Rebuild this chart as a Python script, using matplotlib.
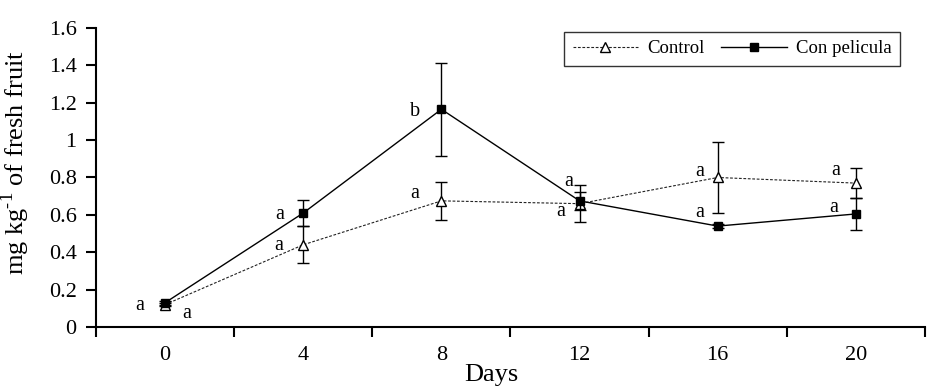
import numpy as np
import matplotlib.pyplot as plt
from matplotlib.lines import Line2D

plt.rcParams['font.family'] = ['Liberation Serif', 'DejaVu Serif']
plt.rcParams['mathtext.fontset'] = 'custom'
plt.rcParams['mathtext.rm'] = 'Liberation Serif'

# Data
days = ['0', '4', '8', '12', '16', '20']
control = [0.12, 0.44, 0.675, 0.66, 0.80, 0.77]
control_err = [0.01, 0.10, 0.10, 0.10, 0.19, 0.08]
pelicula = [0.13, 0.61, 1.165, 0.675, 0.54, 0.605]
pelicula_err = [0.01, 0.07, 0.25, 0.05, 0.01, 0.085]
control_letters = ['a', 'a', 'a', 'a', 'a', 'a']
pelicula_letters = ['a', 'a', 'b', 'a', 'a', 'a']

# letter offsets from the point, in pixels (dx, dy up)
control_off = [(22, -9), (-25, -1), (-27, 7), (-11, 22), (-18, 6), (-20, 13)]
pelicula_off = [(-25, -3), (-24, -1), (-26, -2), (-19, -11), (-18, 14), (-22, 6)]

fig = plt.figure(figsize=(9.45, 3.92), dpi=100)
ax = fig.add_axes([0.1016, 0.1658, 0.8772, 0.7628])
x = np.arange(len(days))

ctrl_style = dict(color='#222222', linestyle=(0, (2.5, 1.5)), linewidth=0.8, marker='^',
                  markersize=7.5, markerfacecolor='white', markeredgecolor='black',
                  markeredgewidth=1)
pel_style = dict(color='black', linestyle='-', linewidth=1, marker='s', markersize=5.5,
                 markerfacecolor='black', markeredgecolor='black')

ax.errorbar(x, control, yerr=control_err, ecolor='black', elinewidth=1, capsize=4,
            capthick=1, zorder=3, **ctrl_style)
ax.errorbar(x, pelicula, yerr=pelicula_err, ecolor='black', elinewidth=1, capsize=4,
            capthick=1, zorder=4, **pel_style)

px = 0.72
for i in range(len(days)):
    dx, dy = control_off[i]
    ax.annotate(control_letters[i], (x[i], control[i]), xytext=(dx * px, dy * px),
                textcoords='offset points', ha='center', va='center', fontsize=14.5)
    dx, dy = pelicula_off[i]
    ax.annotate(pelicula_letters[i], (x[i], pelicula[i]), xytext=(dx * px, dy * px),
                textcoords='offset points', ha='center', va='center', fontsize=14.5)

ax.set_xlim(-0.5, len(days) - 0.5)
ax.set_ylim(0, 1.6)
ax.set_yticks(np.arange(0, 1.61, 0.2))
ax.set_yticklabels(['0', '0.2', '0.4', '0.6', '0.8', '1', '1.2', '1.4', '1.6'])
ax.set_xticks(x)
ax.set_xticklabels(days)
ax.set_xticks(np.arange(-0.5, len(days), 1), minor=True)
ax.tick_params(axis='x', which='major', length=0, labelsize=16, pad=14)
ax.tick_params(axis='x', which='minor', length=7, width=1.5, direction='out')
ax.tick_params(axis='y', length=7, width=1.5, direction='out', labelsize=16, pad=7)

for s in ['top', 'right']:
    ax.spines[s].set_visible(False)
for s in ['left', 'bottom']:
    ax.spines[s].set_linewidth(1.5)

ax.set_xlabel('Days', fontsize=19)
ax.xaxis.set_label_coords(0.4765, -0.125)
ax.set_ylabel('mg kg$^{\\text{-1}}$ of fresh fruit', fontsize=19, va='center')
ax.yaxis.set_label_coords(-0.0975, 0.55)

handles = [Line2D([], [], **ctrl_style), Line2D([], [], **pel_style)]
leg = ax.legend(handles, ['Control', 'Con pelicula'], loc='upper right',
                bbox_to_anchor=(0.970, 0.987), borderaxespad=0, ncol=2, fontsize=13.5,
                frameon=True, fancybox=False, edgecolor='black', handlelength=3.5,
                columnspacing=0.85, borderpad=0.45, handletextpad=0.5)
leg.get_frame().set_linewidth(1)

fig.savefig('out.png', dpi=100)
